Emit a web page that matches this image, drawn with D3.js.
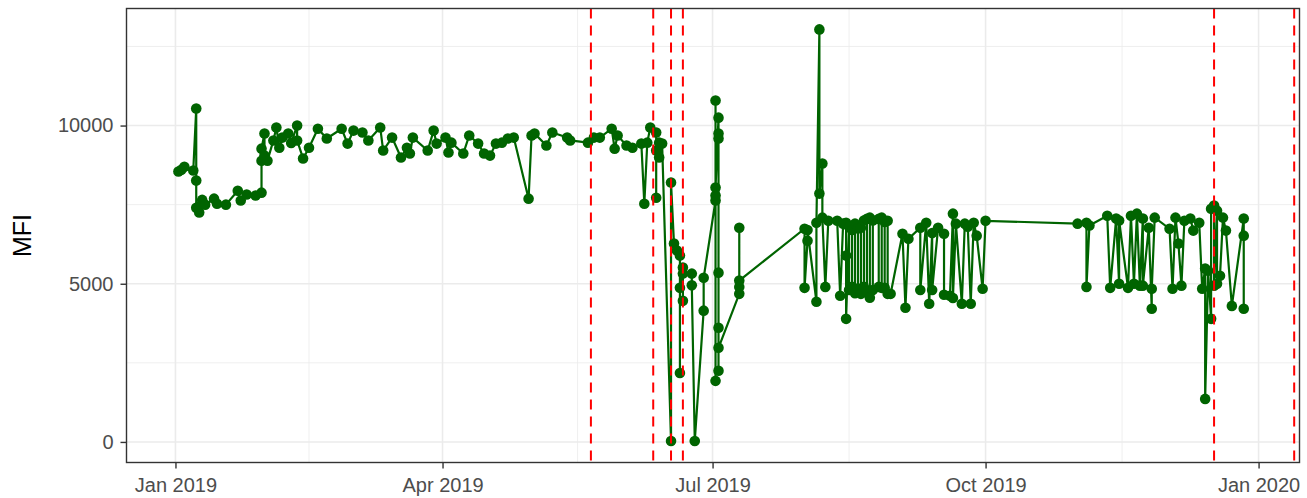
<!DOCTYPE html>
<html><head><meta charset="utf-8">
<script src="https://cdn.jsdelivr.net/npm/d3@7"></script>
<style>body{margin:0;background:#fff}svg{display:block}</style>
</head><body>
<svg id="chart" width="1307" height="498"></svg>
<script>
const dates = [
"2019-01-02","2019-01-03","2019-01-04","2019-01-07","2019-01-08","2019-01-08","2019-01-08","2019-01-09","2019-01-09","2019-01-10",
"2019-01-11","2019-01-14","2019-01-15","2019-01-18","2019-01-22","2019-01-23","2019-01-25","2019-01-28","2019-01-30","2019-01-30",
"2019-01-30","2019-01-31","2019-01-31","2019-02-01","2019-02-03","2019-02-04","2019-02-05","2019-02-06","2019-02-08","2019-02-09",
"2019-02-11","2019-02-11","2019-02-13","2019-02-15","2019-02-18","2019-02-21","2019-02-26","2019-02-28","2019-03-02","2019-03-05",
"2019-03-07","2019-03-11","2019-03-12","2019-03-15","2019-03-18","2019-03-20","2019-03-21","2019-03-22","2019-03-27","2019-03-29",
"2019-03-30","2019-04-02","2019-04-03","2019-04-04","2019-04-08","2019-04-10","2019-04-13","2019-04-15","2019-04-17","2019-04-19",
"2019-04-21","2019-04-23","2019-04-25","2019-04-30","2019-05-01","2019-05-02","2019-05-06","2019-05-08","2019-05-13","2019-05-14",
"2019-05-20","2019-05-22","2019-05-24","2019-05-28","2019-05-29","2019-05-30","2019-06-02","2019-06-04","2019-06-07","2019-06-08",
"2019-06-09","2019-06-10","2019-06-12","2019-06-12","2019-06-12","2019-06-13","2019-06-13","2019-06-14","2019-06-17","2019-06-17",
"2019-06-18","2019-06-19","2019-06-20","2019-06-20","2019-06-20","2019-06-21","2019-06-21","2019-06-21","2019-06-24","2019-06-24",
"2019-06-25","2019-06-28","2019-06-28","2019-07-02","2019-07-02","2019-07-02","2019-07-02","2019-07-02","2019-07-03","2019-07-03",
"2019-07-03","2019-07-03","2019-07-03","2019-07-03","2019-07-03","2019-07-10","2019-07-10","2019-07-10","2019-07-10",
"2019-08-01","2019-08-01","2019-08-02","2019-08-02","2019-08-05","2019-08-05","2019-08-06","2019-08-06","2019-08-07","2019-08-07",
"2019-08-08","2019-08-09","2019-08-12","2019-08-13","2019-08-14","2019-08-15","2019-08-15","2019-08-15",
"2019-08-16","2019-08-16","2019-08-17","2019-08-17","2019-08-18","2019-08-18","2019-08-19","2019-08-19","2019-08-20","2019-08-20",
"2019-08-21","2019-08-21","2019-08-22","2019-08-22","2019-08-23","2019-08-23","2019-08-24","2019-08-24","2019-08-26","2019-08-26",
"2019-08-27","2019-08-27","2019-08-28","2019-08-28","2019-08-29","2019-08-29","2019-08-30",
"2019-09-03","2019-09-04","2019-09-05","2019-09-09","2019-09-09","2019-09-11","2019-09-12","2019-09-13","2019-09-13","2019-09-15",
"2019-09-17","2019-09-17","2019-09-19","2019-09-20","2019-09-20","2019-09-21","2019-09-23","2019-09-24","2019-09-25","2019-09-26",
"2019-09-27","2019-09-28","2019-09-30","2019-10-01",
"2019-11-01","2019-11-04","2019-11-04","2019-11-05","2019-11-11","2019-11-12","2019-11-14","2019-11-15","2019-11-15","2019-11-18",
"2019-11-19","2019-11-20","2019-11-21","2019-11-22","2019-11-23","2019-11-23","2019-11-25","2019-11-26","2019-11-26","2019-11-27",
"2019-12-02","2019-12-03","2019-12-04","2019-12-05","2019-12-06","2019-12-07","2019-12-09","2019-12-10","2019-12-12","2019-12-13",
"2019-12-14","2019-12-14","2019-12-15","2019-12-16","2019-12-16","2019-12-17","2019-12-17","2019-12-18","2019-12-18","2019-12-19",
"2019-12-20","2019-12-21","2019-12-23","2019-12-27","2019-12-27","2019-12-27"
];
const mfi = [
8550,8600,8700,8580,10540,8260,7400,7250,7450,7650,
7500,7690,7530,7500,7940,7630,7820,7790,7880,8890,
9270,9750,9050,8890,9530,9940,9300,9620,9750,9450,
10000,9530,8960,9300,9900,9590,9900,9430,9840,9780,
9530,9940,9210,9620,8990,9300,9115,9620,9210,9840,
9430,9620,9150,9460,9115,9685,9430,9115,9050,9430,
9460,9590,9620,7690,9685,9750,9370,9780,9620,9530,
9460,9620,9620,9900,9270,9685,9370,9300,9430,7530,
9460,9940,9780,7720,9210,9460,8990,9430,30,8200,
6270,6050,5890,2180,4870,5510,4460,5320,5320,4950,
30,4150,5190,7630,10790,7790,1930,8040,10250,9750,
9590,2250,5350,3610,2975,4680,6770,4900,5100,
6740,4870,6360,6700,4430,6930,13040,7850,8800,7090,
4900,6990,6990,4620,6900,6930,5890,3890,
6800,4800,4900,6700,6900,4700,4850,6750,6770,4680,
4900,7000,7050,4750,4560,7090,7000,4800,4900,7050,
7090,4870,4870,6950,6990,4680,4680,
6580,4240,6420,6770,4800,6930,4370,6600,4800,6770,
6580,4650,4620,7215,4550,6900,4370,6900,6800,4370,
6930,6520,4840,6990,
6900,6930,4900,6840,7150,4870,7060,5000,7000,4870,
7150,5000,7215,4940,7060,4940,6770,4210,4840,7090,
6740,4840,7090,6270,4940,6990,7060,6680,6930,4840,
5480,1360,5410,3890,7370,7470,4940,7310,5000,5250,
7090,6680,4300,7060,6520,4210
];
const eventDates = ["2019-05-21","2019-06-11","2019-06-17","2019-06-21","2019-12-17","2020-01-13"];
const xTickDates = ["2019-01-01","2019-04-01","2019-07-01","2019-10-01","2020-01-01"];
const xTickLabels = ["Jan 2019","Apr 2019","Jul 2019","Oct 2019","Jan 2020"];
const yTicks = [0,5000,10000];
const yMinorTicks = [2500,7500,12500];
const xDomain = ["2018-12-15T12:00","2020-01-14T19:00"];
const yDomain = [-650,13700];

const parse = d3.utcParse("%Y-%m-%d");
const parseT = d3.utcParse("%Y-%m-%dT%H:%M");
const data = dates.map((d,i)=>({date:parse(d), v:mfi[i]}));
data.sort((a,b)=>a.date-b.date);

const L=126.5, R=1299.5, T=8.5, B=462.5;
const svg = d3.select("#chart");
const x = d3.scaleUtc().domain(xDomain.map(parseT)).range([L,R]);
const y = d3.scaleLinear().domain(yDomain).range([B,T]);

const grid = svg.append("g");
const majX = xTickDates.map(parse);
const minX = [];
for(let i=0;i<majX.length-1;i++) minX.push(new Date((+majX[i]+ +majX[i+1])/2));
grid.selectAll(".mnx").data(minX).join("line")
  .attr("x1",d=>x(d)).attr("x2",d=>x(d)).attr("y1",T).attr("y2",B)
  .attr("stroke","#EBEBEB").attr("stroke-width",0.8);
grid.selectAll(".mny").data(yMinorTicks).join("line")
  .attr("x1",L).attr("x2",R).attr("y1",d=>y(d)).attr("y2",d=>y(d))
  .attr("stroke","#EBEBEB").attr("stroke-width",0.8);
grid.selectAll(".mjx").data(majX).join("line")
  .attr("x1",d=>x(d)).attr("x2",d=>x(d)).attr("y1",T).attr("y2",B)
  .attr("stroke","#EBEBEB").attr("stroke-width",1.6);
grid.selectAll(".mjy").data(yTicks).join("line")
  .attr("x1",L).attr("x2",R).attr("y1",d=>y(d)).attr("y2",d=>y(d))
  .attr("stroke","#EBEBEB").attr("stroke-width",1.6);

const plot = svg.append("g");
plot.append("path").datum(data)
  .attr("d", d3.line().x(d=>x(d.date)).y(d=>y(d.v)))
  .attr("fill","none").attr("stroke","#006400").attr("stroke-width",2.2);
plot.selectAll("circle").data(data).join("circle")
  .attr("cx",d=>x(d.date)).attr("cy",d=>y(d.v)).attr("r",5.3).attr("fill","#006400");

plot.selectAll(".ev").data(eventDates.map(parse)).join("line")
  .attr("x1",d=>x(d)).attr("x2",d=>x(d)).attr("y1",T).attr("y2",B)
  .attr("stroke","#FF0000").attr("stroke-width",2).attr("stroke-dasharray","10,7");

svg.append("rect").attr("x",L).attr("y",T).attr("width",R-L).attr("height",B-T)
  .attr("fill","none").attr("stroke","#333333").attr("stroke-width",1.4);

const fmt = new Map(xTickDates.map((d,i)=>[+parse(d), xTickLabels[i]]));
const xAxis = svg.append("g").attr("transform",`translate(0,${B})`)
  .call(d3.axisBottom(x).tickValues(majX).tickSize(6).tickPadding(9).tickFormat(d=>fmt.get(+d)));
const yAxis = svg.append("g").attr("transform",`translate(${L},0)`)
  .call(d3.axisLeft(y).tickValues(yTicks).tickSize(6).tickPadding(7).tickFormat(d3.format("d")));
[xAxis,yAxis].forEach(a=>{
  a.select(".domain").remove();
  a.selectAll(".tick line").attr("stroke","#333333").attr("stroke-width",1.4);
  a.selectAll(".tick text").attr("fill","#4D4D4D").style("font-family","Liberation Sans, Arial, sans-serif").style("font-size","20px");
});
svg.append("text").attr("transform",`translate(31,${(T+B)/2}) rotate(-90)`)
  .attr("text-anchor","middle").style("font-family","Liberation Sans, Arial, sans-serif")
  .style("font-size","25px").attr("fill","#000").text("MFI");
</script>
</body></html>
